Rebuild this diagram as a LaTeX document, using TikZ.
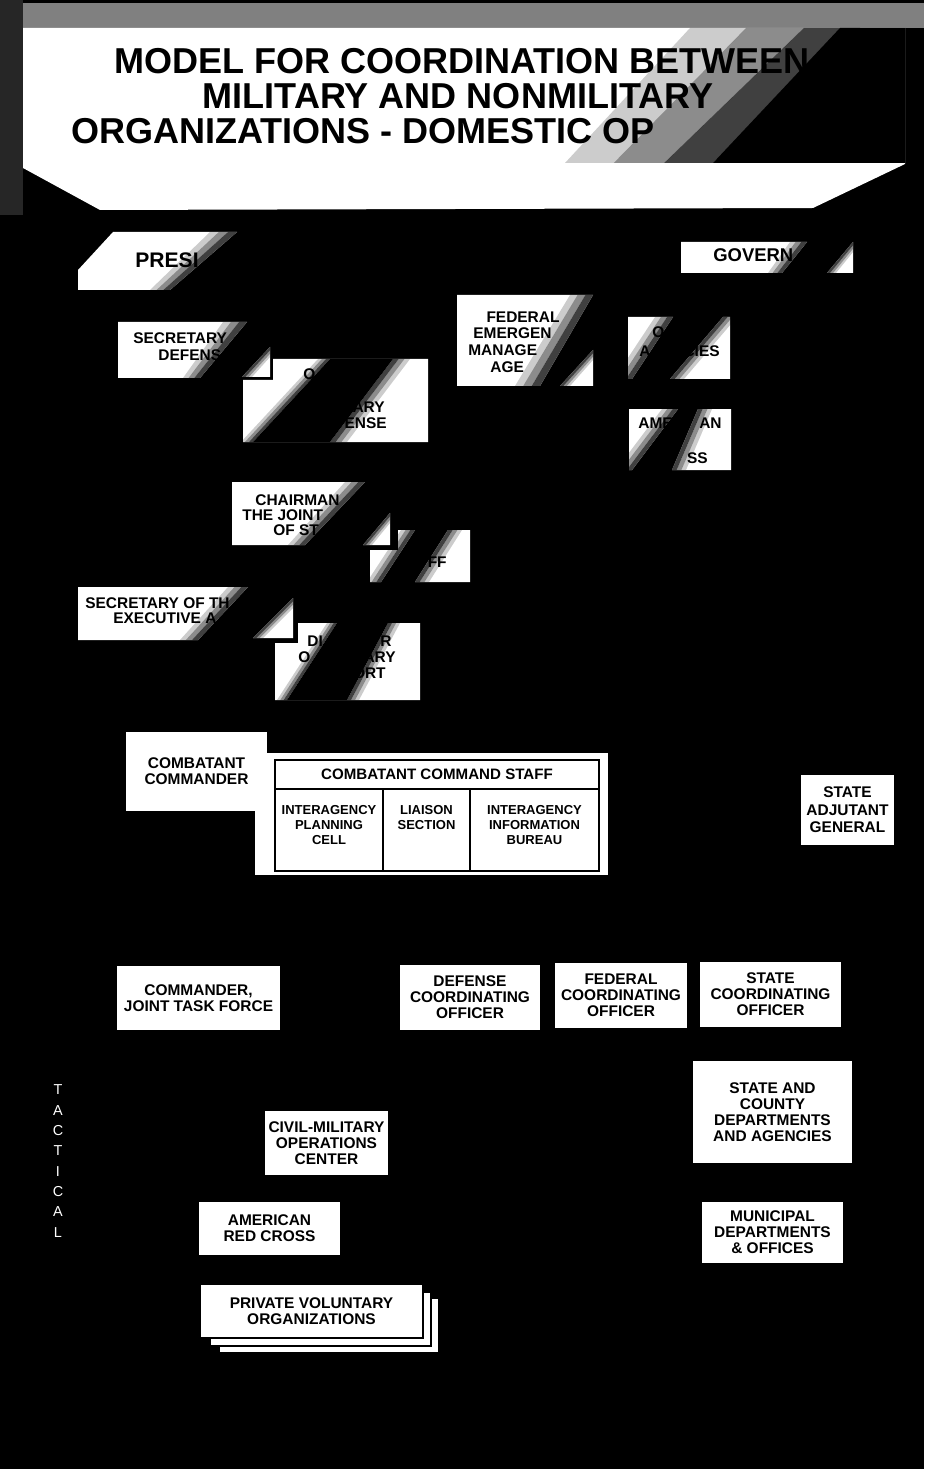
\documentclass[tikz,border=0pt]{standalone}
\usepackage{fontspec}
\setmainfont{Liberation Sans}
\usetikzlibrary{positioning, calc}

% stippled edge of a black band: white side first, then black side
\newcommand\fringe[4]{%
    \fill[grain, fill opacity = 0.2] (#1) -- ($(#1)!0.33!(#2)$) -- ($(#4)!0.33!(#3)$) -- (#4) -- cycle;
    \fill[grain, fill opacity = 0.45] ($(#1)!0.33!(#2)$) -- ($(#1)!0.67!(#2)$) -- ($(#4)!0.67!(#3)$) -- ($(#4)!0.33!(#3)$) -- cycle;
    \fill[grain, fill opacity = 0.75] ($(#1)!0.67!(#2)$) -- (#2) -- (#3) -- ($(#4)!0.67!(#3)$) -- cycle;}

\begin{document}
\begin{tikzpicture}[x = 0.02cm, y = -0.02cm,
    every node/.style = {inner sep = 0pt, align = center, font = \bfseries\fontsize{8.8}{9.1}\selectfont},
    card/.style 2 args = {fill = white, minimum width = #1*0.02cm, minimum height = #2*0.02cm},
    cell/.style 2 args = {draw = black, line width = 0.6pt, minimum width = #1*0.02cm, minimum height = #2*0.02cm},
    grain/.style = {fill = black},
    frag/.style = {anchor = base west},
    fragr/.style = {anchor = base east},
    headline/.style = {anchor = base, font = \bfseries\fontsize{20.5}{24}\selectfont},
    small/.style = {font = \bfseries\fontsize{7.4}{8.3}\selectfont}]

    % page
    \fill[black] (0,0) rectangle (924,1469);
    \useasboundingbox (0,0) rectangle (924,1469);

    % title banner
    \fill[black!50] (23,3) rectangle (924,28);
    \fill[black!85] (0,0) rectangle (23,215);
    \fill[white] (23,28) -- (905,28) -- (905,164) -- (813,208) -- (100,210) -- (23,168) -- cycle;
    \node[headline] (ttl1) at (462,74) {MODEL FOR COORDINATION BETWEEN};
    \node[headline] (ttl2) at (458,109) {MILITARY AND NONMILITARY};
    \node[headline, anchor = base west] (ttl3) at (71,144) {ORGANIZATIONS - DOMESTIC OP};
    \fringe{690,28}{860,28}{713,163}{565,163}
    \fill[black] (840,28) -- (905,28) -- (905,163) -- (713,163) -- cycle;

    % strategic level
    \fill[white] (113,232) -- (237,232) -- (170,290) -- (78,290) -- (78,270) -- cycle;
    \node[frag, font = \bfseries\fontsize{12}{14}\selectfont] (pres) at (135,268) {PRESI};
    \fringe{210,232}{237,232}{170,290}{150,290}

    \fill[white] (681,242) -- (807,242) -- (782,273) -- (681,273) -- cycle;
    \fill[white] (827,273) -- (853,242) -- (853,273) -- cycle;
    \node[frag, font = \bfseries\fontsize{10.5}{12}\selectfont] (gov) at (713,262) {GOVERN};
    \fringe{790,242}{807,242}{782,273}{768,273}
    \fringe{853,252}{853,242}{827,273}{836,273}

    \fill[white] (118,322) -- (247,322) -- (200,378) -- (118,378) -- cycle;
    \fill[white] (242,377) -- (270,347) -- (270,377) -- cycle;
    \node[frag] (secdef) at (133,343.5) {SECRETARY};
    \node[frag] (secdef2) at (158,360.5) {DEFENS};
    \fringe{223,322}{247,322}{200,378}{183,378}
    \fringe{270,357}{270,347}{242,377}{252,377}

    \fill[white] (243,442) -- (243,380) -- (273,380) -- (273,359) -- (428,359) -- (428,442) -- cycle;
    \node[frag] (osd) at (303,379) {O};
    \node[fragr] (osd2) at (385,412.5) {ARY};
    \node[fragr] (osd3) at (387,428.5) {ENSE};
    \fill[black] (253,442) -- (330,359) -- (393,359) -- (330,442) -- cycle;
    \fringe{318,359}{330,359}{253,442}{241,442}
    \fringe{410,359}{393,359}{330,442}{347,442}

    \fill[white] (457,295) -- (593,295) -- (540,386) -- (457,386) -- cycle;
    \fill[white] (560,386) -- (593,350) -- (593,386) -- cycle;
    \node[anchor = base] (fema) at (523,322.5) {FEDERAL};
    \node[frag] (fema2) at (473,338.5) {EMERGEN};
    \node[frag] (fema3) at (468,355.5) {MANAGE};
    \node[frag] (fema4) at (490,372.5) {AGE};
    \fringe{570,295}{593,295}{540,386}{515,386}
    \fringe{593,360}{593,350}{560,386}{570,386}

    \fill[white] (628,317) -- (673,317) -- (632,379) -- (628,379) -- cycle;
    \fill[white] (670,379) -- (723,317) -- (730,317) -- (730,379) -- cycle;
    \node[frag] (othag) at (652,338) {O};
    \node[frag] (othag2) at (639,357) {A};
    \node[fragr] (othag3) at (720,357) {CIES};
    \fringe{655,317}{673,317}{632,379}{614,379}
    \fringe{737,317}{723,317}{670,379}{684,379}

    \fill[white] (629,409) -- (678,409) -- (632,470) -- (629,470) -- cycle;
    \fill[white] (698,409) -- (731,409) -- (731,470) -- (672,470) -- cycle;
    \node[frag] (arc) at (638,428.5) {AME};
    \node[fragr] (arc2) at (722,428.5) {AN};
    \node[fragr] (arc3) at (708,463.5) {SS};
    \fringe{662,409}{678,409}{632,470}{616,470}
    \fringe{712,409}{698,409}{672,470}{686,470}

    \fill[white] (232,482) -- (365,482) -- (305,545) -- (232,545) -- cycle;
    \fill[white] (363,545) -- (390,513) -- (390,545) -- cycle;
    \node[frag] (chair) at (255,505.5) {CHAIRMAN};
    \node[frag] (chair2) at (242,520.5) {THE JOINT};
    \node[frag] (chair3) at (273,535.5) {OF ST};
    \fringe{345,482}{365,482}{305,545}{288,545}
    \fringe{390,523}{390,513}{363,545}{372,545}

    \fill[white] (370,582) -- (370,550) -- (398,550) -- (398,530) -- (415,530) -- (381,582) -- cycle;
    \fill[white] (448,530) -- (470,530) -- (470,582) -- (415,582) -- cycle;
    \node[fragr] (jstaff) at (447,567) {FF};
    \fringe{401,530}{415,530}{381,582}{367,582}
    \fringe{462,530}{448,530}{415,582}{429,582}

    \fill[white] (78,587) -- (248,587) -- (198,640) -- (78,640) -- cycle;
    \fill[white] (253,638) -- (293,598) -- (293,638) -- cycle;
    \node[frag] (sarmy) at (85,608.5) {SECRETARY OF TH};
    \node[frag] (sarmy2) at (113,623.5) {EXECUTIVE A};
    \fringe{228,587}{248,587}{198,640}{180,640}
    \fringe{293,608}{293,598}{253,638}{263,638}

    \fill[white] (298,623) -- (420,623) -- (420,700) -- (275,700) -- (275,643) -- (298,643) -- cycle;
    \node[frag] (dms) at (307,646.5) {DI};
    \node[fragr] (dms2) at (392,646.5) {R};
    \node[frag] (dms3) at (298,662.5) {O};
    \node[fragr] (dms4) at (396,662.5) {ARY};
    \node[fragr] (dms5) at (386,678.5) {ORT};
    \fill[black] (287,700) -- (337,623) -- (388,623) -- (347,700) -- cycle;
    \fringe{327,623}{337,623}{287,700}{277,700}
    \fringe{400,623}{388,623}{347,700}{359,700}

    % operational level
    \node[card = {141}{79}] (ccdr) at (196.5,771.5) {COMBATANT\\COMMANDER};
    \node[card = {353}{122}] (stf) at (431.5,814) {};
    \node[cell = {324}{29}, font = \bfseries\fontsize{8.6}{9}\selectfont] (hdr) at (437,774.5) {COMBATANT COMMAND STAFF};
    \node[cell = {108}{82}] (ipc) at (329,830) {};
    \node[cell = {87}{82}] (lno) at (426.5,830) {};
    \node[cell = {129}{82}] (iib) at (534.5,830) {};
    \node[small, below = 0.34cm of ipc.north] (ipct) {INTERAGENCY\\PLANNING\\CELL};
    \node[small, below = 0.34cm of lno.north] (lnot) {LIAISON\\SECTION};
    \node[small, below = 0.34cm of iib.north] (iibt) {INTERAGENCY\\INFORMATION\\BUREAU};
    \node[card = {93}{70}, font = \bfseries\fontsize{8.8}{9.9}\selectfont] (sag) at (847.5,810) {STATE\\ADJUTANT\\GENERAL};

    \node[card = {163}{64}] (cjtf) at (198.5,998) {COMMANDER,\\JOINT TASK FORCE};
    \node[card = {140}{65}] (dco) at (470,997.5) {DEFENSE\\COORDINATING\\OFFICER};
    \node[card = {132}{65}] (fco) at (621,995.5) {FEDERAL\\COORDINATING\\OFFICER};
    \node[card = {141}{65}] (sco) at (770.5,994.5) {STATE\\COORDINATING\\OFFICER};

    % tactical level
    \node[text = white, font = \fontsize{8.2}{11.6}\selectfont] (tac) at (58,1161) {T\\A\\C\\T\\I\\C\\A\\L};
    \node[card = {159}{102}] (scda) at (772.5,1112) {STATE AND\\COUNTY\\DEPARTMENTS\\AND AGENCIES};
    \node[card = {123}{64}] (cmoc) at (326.5,1143) {CIVIL-MILITARY\\OPERATIONS\\CENTER};
    \node[card = {141}{53}] (redx) at (269.5,1228.5) {AMERICAN\\RED CROSS};
    \node[card = {141}{61}] (muni) at (772.5,1232.5) {MUNICIPAL\\DEPARTMENTS\\\& OFFICES};
    \node[card = {220}{55}, draw = black, line width = 0.6pt] (pvo3) at (329,1325.5) {};
    \node[card = {221}{54}, draw = black, line width = 0.6pt] (pvo2) at (320.5,1319) {};
    \node[card = {223}{54}, draw = black, line width = 0.6pt] (pvo) at (311.5,1311) {PRIVATE VOLUNTARY\\ORGANIZATIONS};
\end{tikzpicture}
\end{document}
